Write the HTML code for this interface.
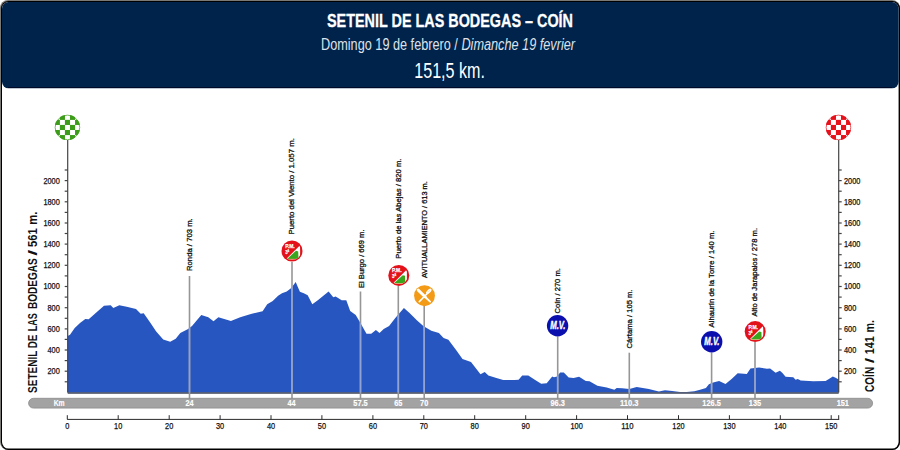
<!DOCTYPE html>
<html><head><meta charset="utf-8"><title>Setenil de las Bodegas - Coín</title>
<style>
html,body{margin:0;padding:0;background:#fff;width:900px;height:450px;overflow:hidden}
svg{display:block}
</style></head>
<body>
<svg width="900" height="450" viewBox="0 0 900 450" font-family='"Liberation Sans", Arial, sans-serif'>
<rect x="0" y="0" width="900" height="450" fill="#fff"/>
<rect x="0" y="0" width="900" height="450" rx="8" ry="8" fill="#7b7975"/>
<rect x="1" y="1" width="899" height="449" rx="7.5" ry="7.5" fill="#000"/>
<rect x="2" y="2" width="896.6" height="446.6" rx="6.5" ry="6.5" fill="#fff"/>
<rect x="2" y="2" width="896.6" height="86.3" rx="6.5" ry="6.5" fill="#00234b"/>
<rect x="8" y="87" width="884" height="1" fill="#000a28"/>
<text x="450" y="26.7" text-anchor="middle" font-size="19.2" font-weight="bold" fill="#fff" stroke="#fff" stroke-width="0.3" textLength="246" lengthAdjust="spacingAndGlyphs">SETENIL DE LAS BODEGAS – COÍN</text>
<text x="321" y="49.5" font-size="15.8" fill="#dde2ea" textLength="254" lengthAdjust="spacingAndGlyphs">Domingo 19 de febrero / <tspan font-style="italic">Dimanche 19 fevrier</tspan></text>
<text x="449.6" y="77.5" text-anchor="middle" font-size="22.5" fill="#fff" textLength="70.7" lengthAdjust="spacingAndGlyphs">151,5 km.</text>

<path d="M67.7,392.4 L67.7,336.0 L70.0,334.7 L74.7,328.0 L80.0,323.0 L85.3,319.0 L88.7,319.3 L96.0,312.7 L104.0,305.7 L110.7,305.3 L113.3,308.0 L119.3,305.3 L126.7,306.7 L136.0,309.0 L140.7,313.7 L143.7,313.3 L150.7,323.3 L156.0,331.3 L163.2,339.4 L170.2,341.7 L175.7,338.8 L180.3,332.9 L188.1,329.0 L192.0,325.9 L201.3,315.0 L208.3,317.3 L213.5,321.2 L218.4,317.3 L230.9,320.9 L240.2,317.3 L250.9,314.0 L262.6,311.2 L267.2,304.2 L272.7,301.1 L278.1,295.7 L282.0,293.3 L286.7,291.5 L291.3,287.9 L295.7,282.1 L297.5,286.3 L299.9,291.8 L303.8,293.3 L307.7,295.3 L312.3,304.2 L317.8,300.3 L328.6,291.5 L333.3,297.2 L335.6,296.4 L341.7,300.2 L346.3,300.2 L350.2,311.1 L355.7,315.0 L360.3,322.8 L366.5,333.7 L371.2,333.7 L375.9,330.1 L379.5,332.9 L383.7,329.0 L389.1,325.9 L395.3,318.1 L403.9,308.0 L409.3,312.7 L417.1,320.4 L423.3,325.9 L431.3,330.8 L438.9,333.1 L443.6,338.0 L448.4,339.7 L455.9,349.7 L462.5,359.1 L471.0,362.0 L480.5,374.3 L484.7,372.0 L488.4,375.6 L495.6,377.7 L503.2,380.0 L514.5,380.0 L518.6,379.7 L522.2,375.5 L528.3,375.5 L534.4,379.4 L541.2,383.8 L546.7,383.2 L552.2,376.4 L554.0,377.3 L557.1,376.4 L560.1,372.4 L563.8,372.4 L568.7,377.5 L573.6,377.9 L579.1,376.7 L585.8,381.0 L589.5,381.2 L597.4,385.8 L606.7,387.6 L614.4,389.8 L616.7,388.0 L622.2,388.3 L629.4,388.9 L636.7,386.9 L648.9,389.1 L658.9,391.6 L665.0,390.2 L672.2,391.1 L680.0,392.0 L686.7,392.0 L694.4,391.3 L701.0,389.5 L705.9,387.9 L708.9,384.3 L713.2,382.5 L719.1,381.0 L725.5,384.0 L731.6,378.9 L737.7,373.3 L746.8,374.0 L750.5,368.4 L759.1,367.5 L767.0,368.7 L770.1,368.4 L775.6,372.8 L779.9,370.8 L782.2,372.8 L785.6,376.7 L793.3,377.2 L795.6,379.8 L797.8,379.1 L800.6,380.6 L813.3,381.3 L825.6,380.9 L828.9,378.9 L832.8,376.4 L835.6,377.8 L838.7,379.4 L838.7,392.4 Z" fill="#2856c0"/>
<line x1="67.7" y1="393" x2="838.7" y2="393" stroke="#3c4458" stroke-width="1.5"/>

<clipPath id="pf"><path d="M67.7,392.4 L67.7,336.0 L70.0,334.7 L74.7,328.0 L80.0,323.0 L85.3,319.0 L88.7,319.3 L96.0,312.7 L104.0,305.7 L110.7,305.3 L113.3,308.0 L119.3,305.3 L126.7,306.7 L136.0,309.0 L140.7,313.7 L143.7,313.3 L150.7,323.3 L156.0,331.3 L163.2,339.4 L170.2,341.7 L175.7,338.8 L180.3,332.9 L188.1,329.0 L192.0,325.9 L201.3,315.0 L208.3,317.3 L213.5,321.2 L218.4,317.3 L230.9,320.9 L240.2,317.3 L250.9,314.0 L262.6,311.2 L267.2,304.2 L272.7,301.1 L278.1,295.7 L282.0,293.3 L286.7,291.5 L291.3,287.9 L295.7,282.1 L297.5,286.3 L299.9,291.8 L303.8,293.3 L307.7,295.3 L312.3,304.2 L317.8,300.3 L328.6,291.5 L333.3,297.2 L335.6,296.4 L341.7,300.2 L346.3,300.2 L350.2,311.1 L355.7,315.0 L360.3,322.8 L366.5,333.7 L371.2,333.7 L375.9,330.1 L379.5,332.9 L383.7,329.0 L389.1,325.9 L395.3,318.1 L403.9,308.0 L409.3,312.7 L417.1,320.4 L423.3,325.9 L431.3,330.8 L438.9,333.1 L443.6,338.0 L448.4,339.7 L455.9,349.7 L462.5,359.1 L471.0,362.0 L480.5,374.3 L484.7,372.0 L488.4,375.6 L495.6,377.7 L503.2,380.0 L514.5,380.0 L518.6,379.7 L522.2,375.5 L528.3,375.5 L534.4,379.4 L541.2,383.8 L546.7,383.2 L552.2,376.4 L554.0,377.3 L557.1,376.4 L560.1,372.4 L563.8,372.4 L568.7,377.5 L573.6,377.9 L579.1,376.7 L585.8,381.0 L589.5,381.2 L597.4,385.8 L606.7,387.6 L614.4,389.8 L616.7,388.0 L622.2,388.3 L629.4,388.9 L636.7,386.9 L648.9,389.1 L658.9,391.6 L665.0,390.2 L672.2,391.1 L680.0,392.0 L686.7,392.0 L694.4,391.3 L701.0,389.5 L705.9,387.9 L708.9,384.3 L713.2,382.5 L719.1,381.0 L725.5,384.0 L731.6,378.9 L737.7,373.3 L746.8,374.0 L750.5,368.4 L759.1,367.5 L767.0,368.7 L770.1,368.4 L775.6,372.8 L779.9,370.8 L782.2,372.8 L785.6,376.7 L793.3,377.2 L795.6,379.8 L797.8,379.1 L800.6,380.6 L813.3,381.3 L825.6,380.9 L828.9,378.9 L832.8,376.4 L835.6,377.8 L838.7,379.4 L838.7,392.4 Z"/></clipPath>
<g stroke="#969696" stroke-width="1.6"><line x1="189.5" y1="276" x2="189.5" y2="399"/><line x1="292" y1="262" x2="292" y2="399"/><line x1="360.5" y1="291.5" x2="360.5" y2="399"/><line x1="398.3" y1="286" x2="398.3" y2="399"/><line x1="424.2" y1="306" x2="424.2" y2="399"/><line x1="557.7" y1="336.5" x2="557.7" y2="399"/><line x1="629.3" y1="352.7" x2="629.3" y2="399"/><line x1="711.6" y1="352.5" x2="711.6" y2="399"/><line x1="755.0" y1="342" x2="755.0" y2="399"/></g>
<g stroke="#90a3d3" stroke-width="1.6" clip-path="url(#pf)"><line x1="189.5" y1="276" x2="189.5" y2="399"/><line x1="292" y1="262" x2="292" y2="399"/><line x1="360.5" y1="291.5" x2="360.5" y2="399"/><line x1="398.3" y1="286" x2="398.3" y2="399"/><line x1="424.2" y1="306" x2="424.2" y2="399"/><line x1="557.7" y1="336.5" x2="557.7" y2="399"/><line x1="629.3" y1="352.7" x2="629.3" y2="399"/><line x1="711.6" y1="352.5" x2="711.6" y2="399"/><line x1="755.0" y1="342" x2="755.0" y2="399"/></g>

<rect x="28.6" y="398.3" width="844" height="9.8" rx="4.9" ry="4.9" fill="#a3a3a3" stroke="#8c8c8c" stroke-width="0.8"/>
<text x="59.2" y="406.2" font-size="8.4" font-weight="bold" fill="#fff" stroke="#fff" stroke-width="0.1" text-anchor="middle" textLength="11" lengthAdjust="spacingAndGlyphs">Km</text>
<g font-size="8.4" font-weight="bold" fill="#fff" stroke="#fff" stroke-width="0.15"><text x="189.5" y="406.2" text-anchor="middle" textLength="8.2" lengthAdjust="spacingAndGlyphs">24</text><text x="291.5" y="406.2" text-anchor="middle" textLength="8.2" lengthAdjust="spacingAndGlyphs">44</text><text x="360.5" y="406.2" text-anchor="middle" textLength="14.4" lengthAdjust="spacingAndGlyphs">57.5</text><text x="398.3" y="406.2" text-anchor="middle" textLength="8.2" lengthAdjust="spacingAndGlyphs">65</text><text x="424.2" y="406.2" text-anchor="middle" textLength="8.2" lengthAdjust="spacingAndGlyphs">70</text><text x="557.7" y="406.2" text-anchor="middle" textLength="14.4" lengthAdjust="spacingAndGlyphs">96.3</text><text x="629.3" y="406.2" text-anchor="middle" textLength="18.5" lengthAdjust="spacingAndGlyphs">110.3</text><text x="711.6" y="406.2" text-anchor="middle" textLength="18.5" lengthAdjust="spacingAndGlyphs">126.5</text><text x="755.0" y="406.2" text-anchor="middle" textLength="12.3" lengthAdjust="spacingAndGlyphs">135</text><text x="842.8" y="406.2" text-anchor="middle" textLength="12.3" lengthAdjust="spacingAndGlyphs">151</text></g>

<g stroke="#444" stroke-width="1.2">
<line x1="67.7" y1="140" x2="67.7" y2="392.4"/>
<line x1="838.7" y1="140" x2="838.7" y2="392.4"/>
<line x1="64.7" y1="381.8" x2="67.7" y2="381.8"/><line x1="838.7" y1="381.8" x2="841.7" y2="381.8"/><line x1="64.7" y1="371.2" x2="67.7" y2="371.2"/><line x1="838.7" y1="371.2" x2="841.7" y2="371.2"/><line x1="64.7" y1="360.6" x2="67.7" y2="360.6"/><line x1="838.7" y1="360.6" x2="841.7" y2="360.6"/><line x1="64.7" y1="350.0" x2="67.7" y2="350.0"/><line x1="838.7" y1="350.0" x2="841.7" y2="350.0"/><line x1="64.7" y1="339.4" x2="67.7" y2="339.4"/><line x1="838.7" y1="339.4" x2="841.7" y2="339.4"/><line x1="64.7" y1="328.9" x2="67.7" y2="328.9"/><line x1="838.7" y1="328.9" x2="841.7" y2="328.9"/><line x1="64.7" y1="318.3" x2="67.7" y2="318.3"/><line x1="838.7" y1="318.3" x2="841.7" y2="318.3"/><line x1="64.7" y1="307.7" x2="67.7" y2="307.7"/><line x1="838.7" y1="307.7" x2="841.7" y2="307.7"/><line x1="64.7" y1="297.1" x2="67.7" y2="297.1"/><line x1="838.7" y1="297.1" x2="841.7" y2="297.1"/><line x1="64.7" y1="286.5" x2="67.7" y2="286.5"/><line x1="838.7" y1="286.5" x2="841.7" y2="286.5"/><line x1="64.7" y1="275.9" x2="67.7" y2="275.9"/><line x1="838.7" y1="275.9" x2="841.7" y2="275.9"/><line x1="64.7" y1="265.3" x2="67.7" y2="265.3"/><line x1="838.7" y1="265.3" x2="841.7" y2="265.3"/><line x1="64.7" y1="254.7" x2="67.7" y2="254.7"/><line x1="838.7" y1="254.7" x2="841.7" y2="254.7"/><line x1="64.7" y1="244.1" x2="67.7" y2="244.1"/><line x1="838.7" y1="244.1" x2="841.7" y2="244.1"/><line x1="64.7" y1="233.5" x2="67.7" y2="233.5"/><line x1="838.7" y1="233.5" x2="841.7" y2="233.5"/><line x1="64.7" y1="223.0" x2="67.7" y2="223.0"/><line x1="838.7" y1="223.0" x2="841.7" y2="223.0"/><line x1="64.7" y1="212.4" x2="67.7" y2="212.4"/><line x1="838.7" y1="212.4" x2="841.7" y2="212.4"/><line x1="64.7" y1="201.8" x2="67.7" y2="201.8"/><line x1="838.7" y1="201.8" x2="841.7" y2="201.8"/><line x1="64.7" y1="191.2" x2="67.7" y2="191.2"/><line x1="838.7" y1="191.2" x2="841.7" y2="191.2"/><line x1="64.7" y1="180.6" x2="67.7" y2="180.6"/><line x1="838.7" y1="180.6" x2="841.7" y2="180.6"/><line x1="64.7" y1="170.0" x2="67.7" y2="170.0"/><line x1="838.7" y1="170.0" x2="841.7" y2="170.0"/>
</g>
<g font-size="8.6" fill="#111" stroke="#111" stroke-width="0.25"><text x="59.8" y="374.1" text-anchor="end" textLength="12.3" lengthAdjust="spacingAndGlyphs">200</text><text x="59.8" y="352.9" text-anchor="end" textLength="12.3" lengthAdjust="spacingAndGlyphs">400</text><text x="59.8" y="331.8" text-anchor="end" textLength="12.3" lengthAdjust="spacingAndGlyphs">600</text><text x="59.8" y="310.6" text-anchor="end" textLength="12.3" lengthAdjust="spacingAndGlyphs">800</text><text x="59.8" y="289.4" text-anchor="end" textLength="16.4" lengthAdjust="spacingAndGlyphs">1000</text><text x="59.8" y="268.2" text-anchor="end" textLength="16.4" lengthAdjust="spacingAndGlyphs">1200</text><text x="59.8" y="247.0" text-anchor="end" textLength="16.4" lengthAdjust="spacingAndGlyphs">1400</text><text x="59.8" y="225.9" text-anchor="end" textLength="16.4" lengthAdjust="spacingAndGlyphs">1600</text><text x="59.8" y="204.7" text-anchor="end" textLength="16.4" lengthAdjust="spacingAndGlyphs">1800</text><text x="59.8" y="183.5" text-anchor="end" textLength="16.4" lengthAdjust="spacingAndGlyphs">2000</text><text x="844.0" y="374.1" textLength="12.3" lengthAdjust="spacingAndGlyphs">200</text><text x="844.0" y="352.9" textLength="12.3" lengthAdjust="spacingAndGlyphs">400</text><text x="844.0" y="331.8" textLength="12.3" lengthAdjust="spacingAndGlyphs">600</text><text x="844.0" y="310.6" textLength="12.3" lengthAdjust="spacingAndGlyphs">800</text><text x="844.0" y="289.4" textLength="16.4" lengthAdjust="spacingAndGlyphs">1000</text><text x="844.0" y="268.2" textLength="16.4" lengthAdjust="spacingAndGlyphs">1200</text><text x="844.0" y="247.0" textLength="16.4" lengthAdjust="spacingAndGlyphs">1400</text><text x="844.0" y="225.9" textLength="16.4" lengthAdjust="spacingAndGlyphs">1600</text><text x="844.0" y="204.7" textLength="16.4" lengthAdjust="spacingAndGlyphs">1800</text><text x="844.0" y="183.5" textLength="16.4" lengthAdjust="spacingAndGlyphs">2000</text></g>

<g stroke="#2a2a2a" stroke-width="1">
<line x1="67.2" y1="419.4" x2="839.2" y2="419.4"/>
<line x1="67.3" y1="415.2" x2="67.3" y2="419.4"/><line x1="118.2" y1="415.2" x2="118.2" y2="419.4"/><line x1="169.2" y1="415.2" x2="169.2" y2="419.4"/><line x1="220.1" y1="415.2" x2="220.1" y2="419.4"/><line x1="271.0" y1="415.2" x2="271.0" y2="419.4"/><line x1="321.9" y1="415.2" x2="321.9" y2="419.4"/><line x1="372.9" y1="415.2" x2="372.9" y2="419.4"/><line x1="423.8" y1="415.2" x2="423.8" y2="419.4"/><line x1="474.7" y1="415.2" x2="474.7" y2="419.4"/><line x1="525.7" y1="415.2" x2="525.7" y2="419.4"/><line x1="576.6" y1="415.2" x2="576.6" y2="419.4"/><line x1="627.5" y1="415.2" x2="627.5" y2="419.4"/><line x1="678.5" y1="415.2" x2="678.5" y2="419.4"/><line x1="729.4" y1="415.2" x2="729.4" y2="419.4"/><line x1="780.3" y1="415.2" x2="780.3" y2="419.4"/><line x1="831.2" y1="415.2" x2="831.2" y2="419.4"/><line x1="838.7" y1="415.2" x2="838.7" y2="419.4"/>
</g>
<g font-size="8.6" fill="#111" stroke="#111" stroke-width="0.25"><text x="67.3" y="428.6" text-anchor="middle" textLength="4.1" lengthAdjust="spacingAndGlyphs">0</text><text x="118.2" y="428.6" text-anchor="middle" textLength="8.2" lengthAdjust="spacingAndGlyphs">10</text><text x="169.2" y="428.6" text-anchor="middle" textLength="8.2" lengthAdjust="spacingAndGlyphs">20</text><text x="220.1" y="428.6" text-anchor="middle" textLength="8.2" lengthAdjust="spacingAndGlyphs">30</text><text x="271.0" y="428.6" text-anchor="middle" textLength="8.2" lengthAdjust="spacingAndGlyphs">40</text><text x="321.9" y="428.6" text-anchor="middle" textLength="8.2" lengthAdjust="spacingAndGlyphs">50</text><text x="372.9" y="428.6" text-anchor="middle" textLength="8.2" lengthAdjust="spacingAndGlyphs">60</text><text x="423.8" y="428.6" text-anchor="middle" textLength="8.2" lengthAdjust="spacingAndGlyphs">70</text><text x="474.7" y="428.6" text-anchor="middle" textLength="8.2" lengthAdjust="spacingAndGlyphs">80</text><text x="525.7" y="428.6" text-anchor="middle" textLength="8.2" lengthAdjust="spacingAndGlyphs">90</text><text x="576.6" y="428.6" text-anchor="middle" textLength="12.3" lengthAdjust="spacingAndGlyphs">100</text><text x="627.5" y="428.6" text-anchor="middle" textLength="12.3" lengthAdjust="spacingAndGlyphs">110</text><text x="678.5" y="428.6" text-anchor="middle" textLength="12.3" lengthAdjust="spacingAndGlyphs">120</text><text x="729.4" y="428.6" text-anchor="middle" textLength="12.3" lengthAdjust="spacingAndGlyphs">130</text><text x="780.3" y="428.6" text-anchor="middle" textLength="12.3" lengthAdjust="spacingAndGlyphs">140</text><text x="831.2" y="428.6" text-anchor="middle" textLength="12.3" lengthAdjust="spacingAndGlyphs">150</text></g>

<g font-size="7.6" fill="#111" stroke="#111" stroke-width="0.3"><text transform="translate(192.1,271.0) rotate(-90)" textLength="52.7" lengthAdjust="spacingAndGlyphs">Ronda / 703 m.</text><text transform="translate(293.8,234.5) rotate(-90)" textLength="96.3" lengthAdjust="spacingAndGlyphs">Puerto del Viento / 1.057 m.</text><text transform="translate(364.3,288.0) rotate(-90)" textLength="58.5" lengthAdjust="spacingAndGlyphs">El Burgo / 669 m.</text><text transform="translate(400.8,258.7) rotate(-90)" textLength="100.1" lengthAdjust="spacingAndGlyphs">Puerto de las Abejas / 820 m.</text><text transform="translate(426.5,277.9) rotate(-90)" textLength="96.7" lengthAdjust="spacingAndGlyphs">AVITUALLAMIENTO / 613 m.</text><text transform="translate(560.2,313.5) rotate(-90)" textLength="45.3" lengthAdjust="spacingAndGlyphs">Coín / 270 m.</text><text transform="translate(631.6,348.5) rotate(-90)" textLength="59.0" lengthAdjust="spacingAndGlyphs">Cártama / 105 m.</text><text transform="translate(714.0,327.4) rotate(-90)" textLength="96.9" lengthAdjust="spacingAndGlyphs">Alhaurín de la Torre / 140 m.</text><text transform="translate(757.2,316.5) rotate(-90)" textLength="88.6" lengthAdjust="spacingAndGlyphs">Alto de Jarapalos / 278 m.</text></g>

<g font-size="12.5" font-weight="bold" fill="#111"><text transform="translate(36.8,393.0) rotate(-90)" textLength="42.4" lengthAdjust="spacingAndGlyphs">SETENIL</text><text transform="translate(36.8,348.2) rotate(-90)" textLength="13.6" lengthAdjust="spacingAndGlyphs">DE</text><text transform="translate(36.8,331.3) rotate(-90)" textLength="18.1" lengthAdjust="spacingAndGlyphs">LAS</text><text transform="translate(36.8,309.1) rotate(-90)" textLength="50.8" lengthAdjust="spacingAndGlyphs">BODEGAS</text><text transform="translate(36.8,255.8) rotate(-90)" textLength="6.0" lengthAdjust="spacingAndGlyphs">/</text><text transform="translate(36.8,247.0) rotate(-90)" textLength="18.6" lengthAdjust="spacingAndGlyphs">561</text><text transform="translate(36.8,224.8) rotate(-90)" textLength="13.2" lengthAdjust="spacingAndGlyphs">m.</text></g>
<g font-size="12" font-weight="bold" fill="#111"><text transform="translate(874.1,391.9) rotate(-90)" textLength="25.0" lengthAdjust="spacingAndGlyphs">COÍN</text><text transform="translate(874.1,363.2) rotate(-90)" textLength="5.4" lengthAdjust="spacingAndGlyphs">/</text><text transform="translate(874.1,354.2) rotate(-90)" textLength="18.1" lengthAdjust="spacingAndGlyphs">141</text><text transform="translate(874.1,332.5) rotate(-90)" textLength="12.5" lengthAdjust="spacingAndGlyphs">m.</text></g>

<clipPath id="cg"><circle cx="67.45" cy="127.45" r="12.65"/></clipPath><circle cx="67.45" cy="127.45" r="12.65" fill="#fff"/><g clip-path="url(#cg)" fill="#3c9c1a"><rect x="54.80" y="119.86" width="5.11" height="5.11"/><rect x="54.80" y="129.98" width="5.11" height="5.11"/><rect x="59.86" y="114.80" width="5.11" height="5.11"/><rect x="59.86" y="124.92" width="5.11" height="5.11"/><rect x="59.86" y="135.04" width="5.11" height="5.11"/><rect x="64.92" y="119.86" width="5.11" height="5.11"/><rect x="64.92" y="129.98" width="5.11" height="5.11"/><rect x="69.98" y="114.80" width="5.11" height="5.11"/><rect x="69.98" y="124.92" width="5.11" height="5.11"/><rect x="69.98" y="135.04" width="5.11" height="5.11"/><rect x="75.04" y="119.86" width="5.11" height="5.11"/><rect x="75.04" y="129.98" width="5.11" height="5.11"/></g><circle cx="67.45" cy="127.45" r="12.3" fill="none" stroke="#3c9c1a" stroke-width="0.7"/>
<clipPath id="cr"><circle cx="838.45" cy="127.45" r="12.65"/></clipPath><circle cx="838.45" cy="127.45" r="12.65" fill="#fff"/><g clip-path="url(#cr)" fill="#e6111b"><rect x="825.80" y="119.86" width="5.11" height="5.11"/><rect x="825.80" y="129.98" width="5.11" height="5.11"/><rect x="830.86" y="114.80" width="5.11" height="5.11"/><rect x="830.86" y="124.92" width="5.11" height="5.11"/><rect x="830.86" y="135.04" width="5.11" height="5.11"/><rect x="835.92" y="119.86" width="5.11" height="5.11"/><rect x="835.92" y="129.98" width="5.11" height="5.11"/><rect x="840.98" y="114.80" width="5.11" height="5.11"/><rect x="840.98" y="124.92" width="5.11" height="5.11"/><rect x="840.98" y="135.04" width="5.11" height="5.11"/><rect x="846.04" y="119.86" width="5.11" height="5.11"/><rect x="846.04" y="129.98" width="5.11" height="5.11"/></g><circle cx="838.45" cy="127.45" r="12.3" fill="none" stroke="#e6111b" stroke-width="0.7"/>
<g transform="translate(292.0,251.0)"><clipPath id="p1"><circle cx="0" cy="0" r="9.1"/></clipPath><circle r="10.5" fill="#e3121a"/><g clip-path="url(#p1)"><path d="M-6.2,8.4 L8.1,-5.8 L8.1,8.4 Z" fill="#fff"/><path d="M-4.9,7.9 L4,-0.2 L6.2,0.4 L6.5,7.9 Z" fill="#3aa51d"/><path d="M-5,8.1 L6.8,8.1" stroke="#d9a050" stroke-width="0.6"/></g><g fill="#fff" stroke="#fff" stroke-width="0.25" font-weight="bold"><text x="-6.8" y="-3" font-size="5.8" textLength="9.5" lengthAdjust="spacingAndGlyphs">P.M.</text><text x="-6.8" y="2.9" font-size="6.2" textLength="4.0" lengthAdjust="spacingAndGlyphs">3ª</text></g></g>
<g transform="translate(398.8,275.4)"><clipPath id="p2"><circle cx="0" cy="0" r="9.1"/></clipPath><circle r="10.5" fill="#e3121a"/><g clip-path="url(#p2)"><path d="M-6.2,8.4 L8.1,-5.8 L8.1,8.4 Z" fill="#fff"/><path d="M-4.9,7.9 L4,-0.2 L6.2,0.4 L6.5,7.9 Z" fill="#3aa51d"/><path d="M-5,8.1 L6.8,8.1" stroke="#d9a050" stroke-width="0.6"/></g><g fill="#fff" stroke="#fff" stroke-width="0.25" font-weight="bold"><text x="-6.8" y="-3" font-size="5.8" textLength="9.5" lengthAdjust="spacingAndGlyphs">P.M.</text><text x="-6.8" y="2.9" font-size="6.2" textLength="4.0" lengthAdjust="spacingAndGlyphs">3ª</text></g></g>
<g transform="translate(755.2,331.6)"><clipPath id="p3"><circle cx="0" cy="0" r="9.1"/></clipPath><circle r="10.5" fill="#e3121a"/><g clip-path="url(#p3)"><path d="M-6.2,8.4 L8.1,-5.8 L8.1,8.4 Z" fill="#fff"/><path d="M-4.9,7.9 L4,-0.2 L6.2,0.4 L6.5,7.9 Z" fill="#3aa51d"/><path d="M-5,8.1 L6.8,8.1" stroke="#d9a050" stroke-width="0.6"/></g><g fill="#fff" stroke="#fff" stroke-width="0.25" font-weight="bold"><text x="-6.8" y="-3" font-size="5.8" textLength="9.5" lengthAdjust="spacingAndGlyphs">P.M.</text><text x="-6.8" y="2.9" font-size="6.2" textLength="4.0" lengthAdjust="spacingAndGlyphs">3ª</text></g></g>
<g transform="translate(424.5,295.7)"><circle r="10.45" fill="#f39a16"/><path d="M-6.3,-5.6 L0.8,1.3" stroke="#fff" stroke-width="2.9" stroke-linecap="round"/><path d="M0.5,1 L5.6,5.9" stroke="#fff" stroke-width="1.9" stroke-linecap="round"/><path d="M-5.2,5.9 L2.6,-1.9" stroke="#fff" stroke-width="1.5" stroke-linecap="round"/><ellipse cx="4.3" cy="-4.3" rx="1.7" ry="3.4" transform="rotate(45 4.3 -4.3)" fill="#fff"/><path d="M3.3,-3.3 L5.8,-5.8" stroke="#f5c27a" stroke-width="0.45"/></g>
<g transform="translate(557.6,325.8)"><circle r="10.7" fill="#0b0fae"/><text x="0.2" y="3.6" text-anchor="middle" font-size="10" font-weight="bold" font-style="italic" fill="#fff" stroke="#fff" stroke-width="0.35" textLength="15.2" lengthAdjust="spacingAndGlyphs">M.V.</text></g>
<g transform="translate(711.7,341.8)"><circle r="10.7" fill="#0b0fae"/><text x="0.2" y="3.6" text-anchor="middle" font-size="10" font-weight="bold" font-style="italic" fill="#fff" stroke="#fff" stroke-width="0.35" textLength="15.2" lengthAdjust="spacingAndGlyphs">M.V.</text></g>
</svg>
</body></html>
